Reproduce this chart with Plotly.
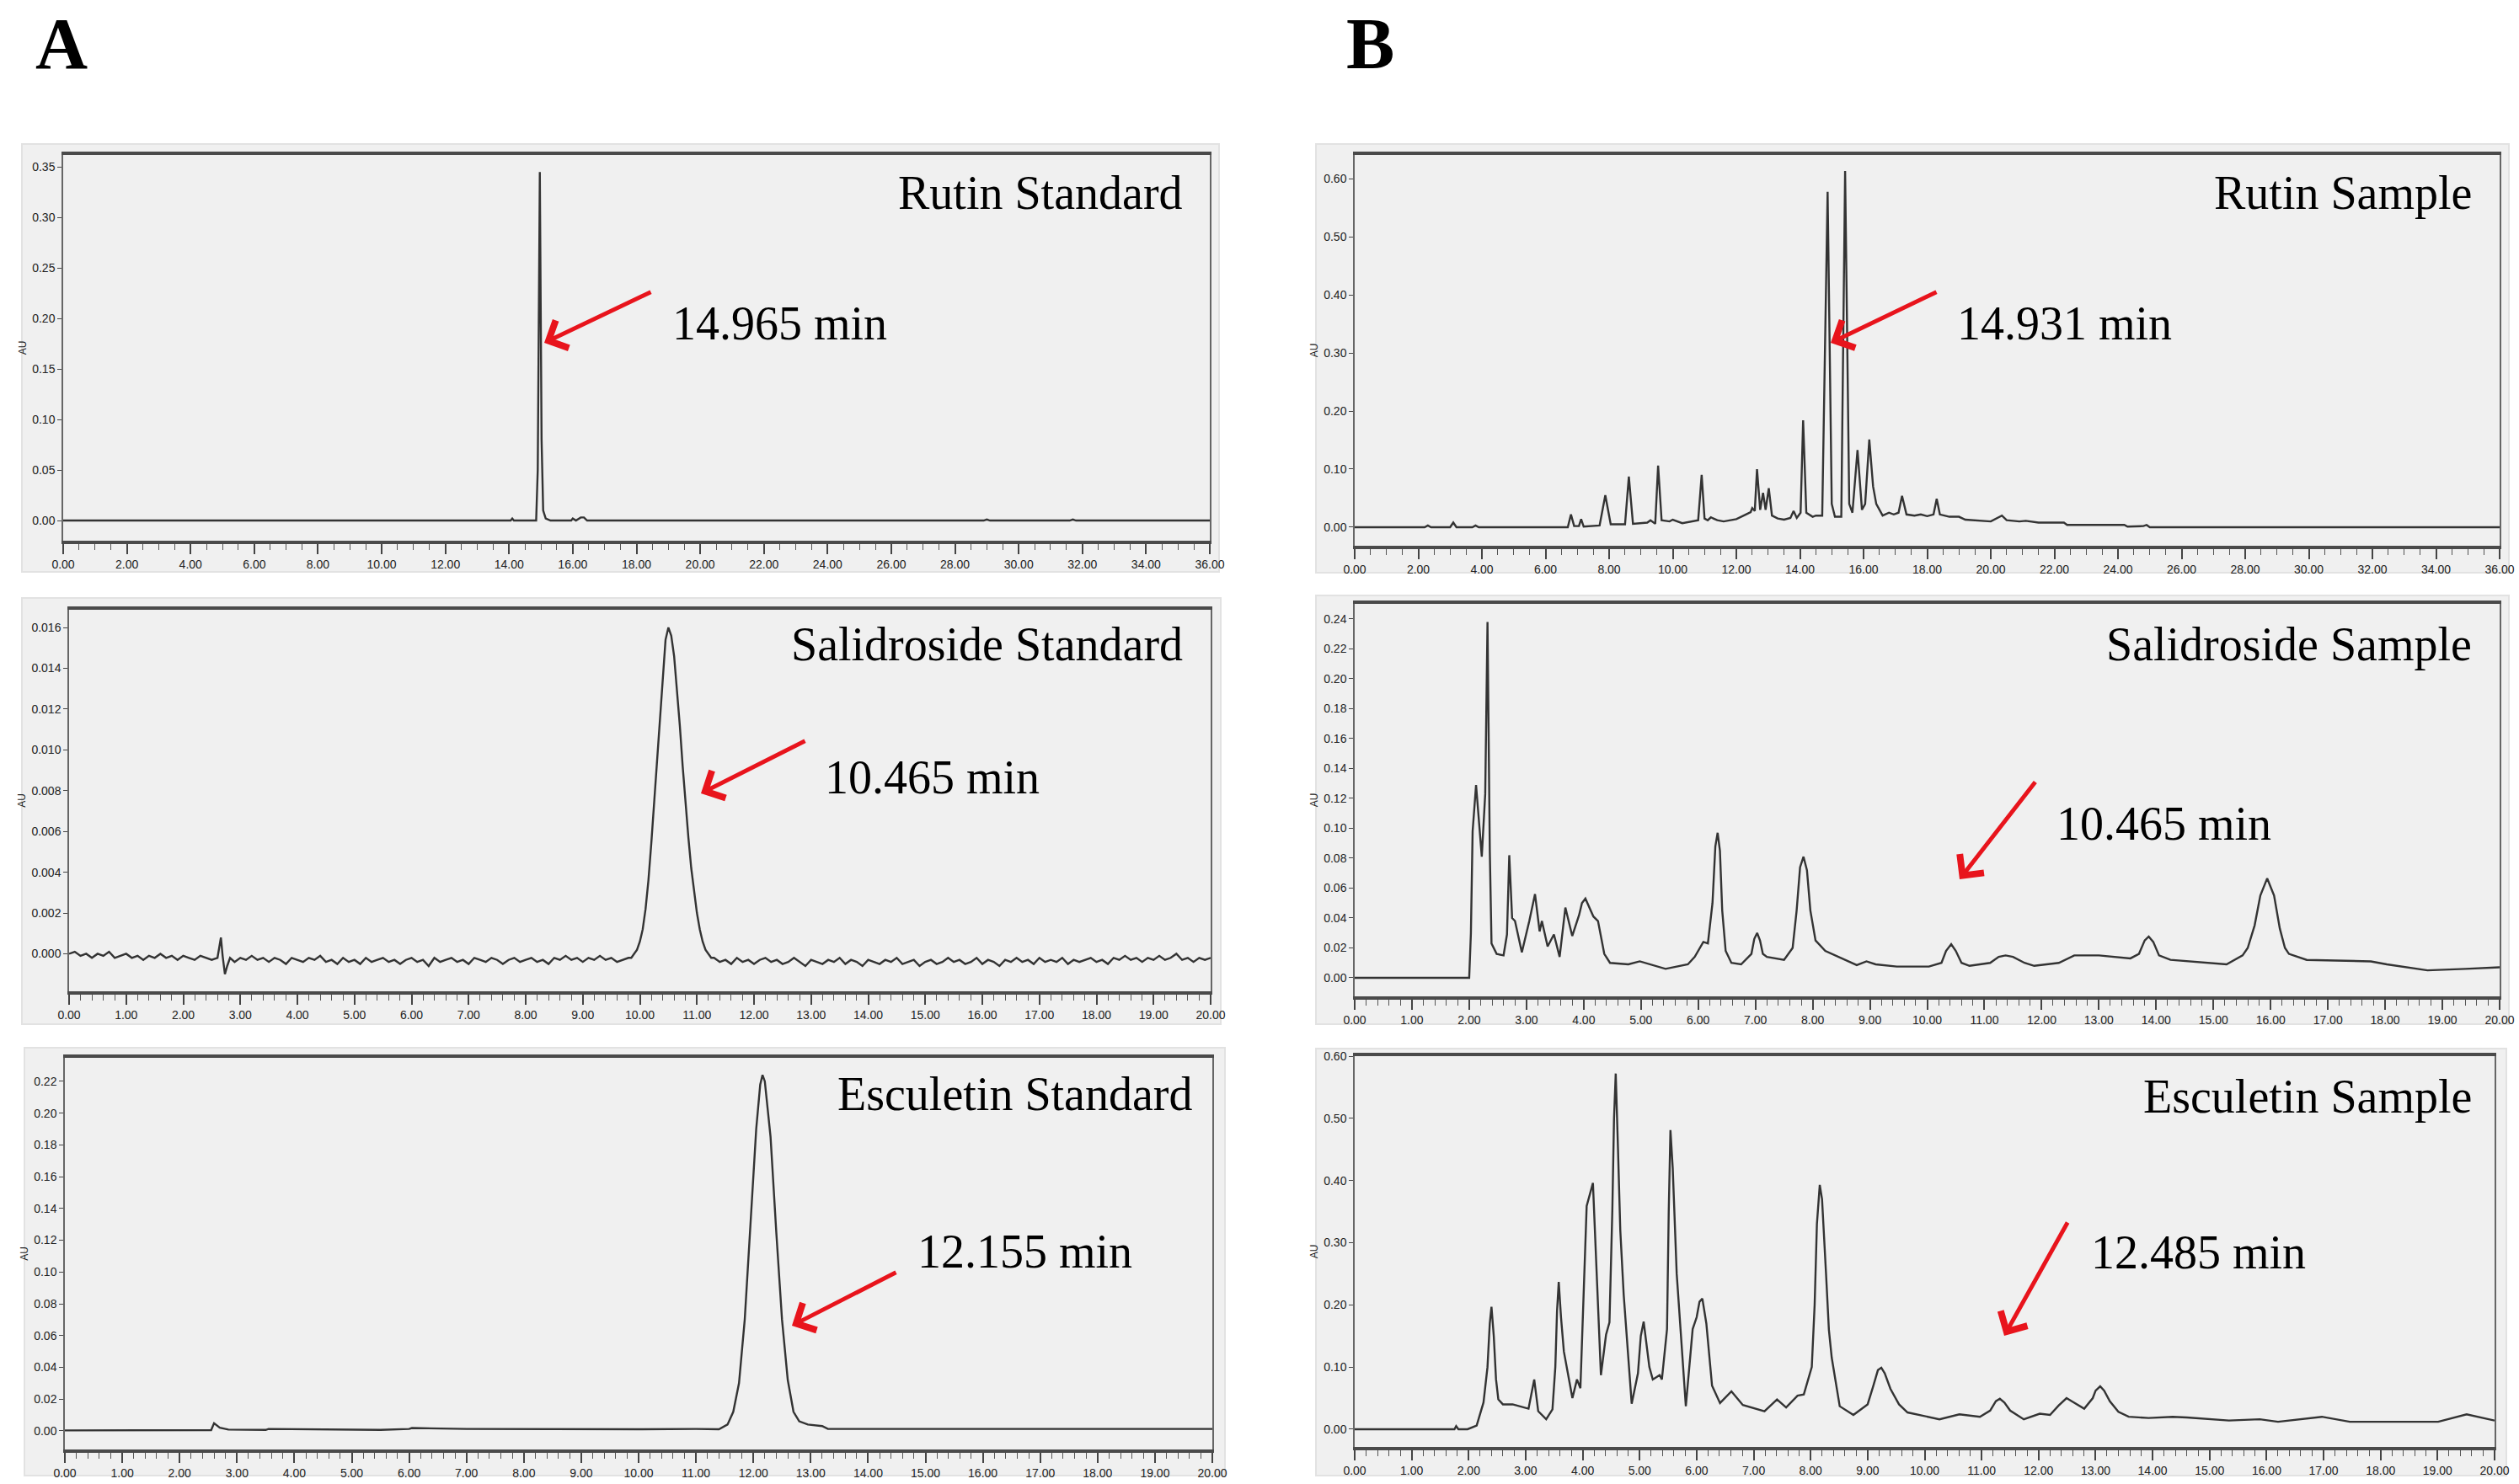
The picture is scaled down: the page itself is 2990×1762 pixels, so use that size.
import plotly.graph_objects as go

W, H = 2990, 1762

# ---------------- chromatogram data (min, AU) ----------------
# A: standards
rutin_std_t = [0.0, 14.05, 14.1, 14.15, 14.85, 14.9, 14.965, 15.02, 15.07, 15.15, 15.3,
               15.95, 16.0, 16.1, 16.25, 16.35, 16.45, 28.9, 29.0, 29.1, 31.6, 31.7, 31.8, 36.0]
rutin_std_au = [0.0, 0.0, 0.002, 0.0, 0.0, 0.05, 0.345, 0.08, 0.01, 0.002, 0.0,
                0.0, 0.002, 0.0, 0.003, 0.003, 0.0, 0.0, 0.001, 0.0, 0.0, 0.001, 0.0, 0.0]

# salidroside standard: noisy baseline, so kept as (time, AU) pairs
sal_std = [
    (0.0, 0.0), (0.1, 0.0001), (0.2, -0.0001), (0.3, 0.0), (0.4, -0.0002), (0.5, 0.0),
    (0.6, -0.0001), (0.7, 0.0001), (0.8, -0.0002), (0.9, -0.0001), (1.0, 0.0),
    (1.1, -0.0002), (1.2, -0.0001), (1.3, -0.0003), (1.4, -0.0001), (1.5, -0.0002),
    (1.6, 0.0), (1.7, -0.0002), (1.8, -0.0001), (1.9, -0.0003), (2.0, -0.0001),
    (2.1, -0.0002), (2.2, -0.0003), (2.3, -0.0001), (2.4, -0.0002), (2.5, -0.0003),
    (2.6, -0.0002), (2.66, 0.0008), (2.69, -0.0001), (2.73, -0.001), (2.77, -0.0006),
    (2.82, -0.0002), (2.9, -0.0004), (3.0, -0.0002), (3.1, -0.0003), (3.2, -0.0001),
    (3.3, -0.0003), (3.4, -0.0002), (3.5, -0.0004), (3.6, -0.0002), (3.7, -0.0003),
    (3.8, -0.0005), (3.9, -0.0002), (4.0, -0.0003), (4.1, -0.0004), (4.2, -0.0002),
    (4.3, -0.0003), (4.4, -0.0001), (4.5, -0.0004), (4.6, -0.0003), (4.7, -0.0005),
    (4.8, -0.0002), (4.9, -0.0004), (5.0, -0.0003), (5.1, -0.0005), (5.2, -0.0002),
    (5.3, -0.0004), (5.4, -0.0003), (5.5, -0.0002), (5.6, -0.0004), (5.7, -0.0003),
    (5.8, -0.0005), (5.9, -0.0003), (6.0, -0.0002), (6.1, -0.0004), (6.2, -0.0003),
    (6.3, -0.0006), (6.4, -0.0002), (6.5, -0.0004), (6.6, -0.0003), (6.7, -0.0002),
    (6.8, -0.0004), (6.9, -0.0003), (7.0, -0.0005), (7.1, -0.0002), (7.2, -0.0003),
    (7.3, -0.0004), (7.4, -0.0002), (7.5, -0.0003), (7.6, -0.0005), (7.7, -0.0003),
    (7.8, -0.0002), (7.9, -0.0004), (8.0, -0.0003), (8.1, -0.0002), (8.2, -0.0004),
    (8.3, -0.0003), (8.4, -0.0005), (8.5, -0.0002), (8.6, -0.0003), (8.7, -0.0001),
    (8.8, -0.0003), (8.9, -0.0002), (9.0, -0.0004), (9.1, -0.0002), (9.2, -0.0003),
    (9.3, -0.0001), (9.4, -0.0003), (9.5, -0.0002), (9.6, -0.0004), (9.7, -0.0003),
    (9.8, -0.0002), (9.85, -0.0002), (9.95, 0.0002), (10.0, 0.0006), (10.05, 0.0012),
    (10.1, 0.0022), (10.15, 0.0036), (10.2, 0.0054), (10.25, 0.0074), (10.3, 0.0095),
    (10.35, 0.0118), (10.4, 0.0138), (10.45, 0.0154), (10.5, 0.016), (10.55, 0.0156),
    (10.6, 0.0146), (10.65, 0.013), (10.7, 0.0112), (10.75, 0.0092), (10.8, 0.0074),
    (10.85, 0.0057), (10.9, 0.0042), (10.95, 0.003), (11.0, 0.002), (11.05, 0.0012),
    (11.1, 0.0006), (11.15, 0.0002), (11.2, 0.0), (11.25, -0.0002), (11.3, -0.0002),
    (11.4, -0.0004), (11.5, -0.0003), (11.6, -0.0005), (11.7, -0.0002), (11.8, -0.0004),
    (11.9, -0.0003), (12.0, -0.0005), (12.1, -0.0003), (12.2, -0.0002), (12.3, -0.0004),
    (12.4, -0.0003), (12.5, -0.0005), (12.6, -0.0004), (12.7, -0.0002), (12.8, -0.0004),
    (12.9, -0.0006), (13.0, -0.0003), (13.1, -0.0004), (13.2, -0.0005), (13.3, -0.0003),
    (13.4, -0.0004), (13.5, -0.0002), (13.6, -0.0005), (13.7, -0.0003), (13.8, -0.0004),
    (13.9, -0.0006), (14.0, -0.0003), (14.1, -0.0004), (14.2, -0.0005), (14.3, -0.0003),
    (14.4, -0.0004), (14.5, -0.0002), (14.6, -0.0005), (14.7, -0.0004), (14.8, -0.0003),
    (14.9, -0.0006), (15.0, -0.0004), (15.1, -0.0003), (15.2, -0.0005), (15.3, -0.0004),
    (15.4, -0.0002), (15.5, -0.0004), (15.6, -0.0003), (15.7, -0.0005), (15.8, -0.0004),
    (15.9, -0.0002), (16.0, -0.0005), (16.1, -0.0003), (16.2, -0.0004), (16.3, -0.0006),
    (16.4, -0.0003), (16.5, -0.0004), (16.6, -0.0002), (16.7, -0.0004), (16.8, -0.0003),
    (16.9, -0.0005), (17.0, -0.0002), (17.1, -0.0004), (17.2, -0.0003), (17.3, -0.0004),
    (17.4, -0.0002), (17.5, -0.0005), (17.6, -0.0003), (17.7, -0.0004), (17.8, -0.0003),
    (17.9, -0.0002), (18.0, -0.0004), (18.1, -0.0003), (18.2, -0.0005), (18.3, -0.0002),
    (18.4, -0.0003), (18.5, -0.0001), (18.6, -0.0003), (18.7, -0.0002), (18.8, -0.0004),
    (18.9, -0.0002), (19.0, -0.0003), (19.1, -0.0001), (19.2, -0.0003), (19.3, -0.0002),
    (19.4, 0.0), (19.5, -0.0003), (19.6, -0.0002), (19.7, -0.0004), (19.8, -0.0002),
    (19.9, -0.0003), (20.0, -0.0002),
]
sal_std_t = [p[0] for p in sal_std]
sal_std_au = [p[1] for p in sal_std]

esc_std_t = [0.0, 1.0, 2.0, 2.55, 2.6, 2.7, 2.85, 3.5, 3.55, 4.5, 5.5, 6.0, 6.05, 7.0, 8.0,
             9.0, 10.0, 11.0, 11.4, 11.55, 11.65, 11.75, 11.85, 11.95, 12.05, 12.12, 12.16,
             12.2, 12.3, 12.4, 12.5, 12.6, 12.7, 12.8, 12.95, 13.2, 13.3, 20.0]
esc_std_au = [0.0003, 0.0005, 0.0004, 0.0005, 0.0048, 0.002, 0.0008, 0.0006, 0.0012, 0.0009,
              0.0006, 0.0012, 0.0018, 0.0012, 0.001, 0.0012, 0.001, 0.0012, 0.001, 0.004,
              0.012, 0.03, 0.07, 0.13, 0.19, 0.218, 0.224, 0.22, 0.185, 0.125, 0.07, 0.032,
              0.012, 0.006, 0.004, 0.003, 0.0012, 0.0012]

# B: samples
rutin_smp_t = [0.0, 2.2, 2.3, 2.4, 3.0, 3.1, 3.2, 3.7, 3.8, 3.9, 6.7, 6.8, 6.9, 7.05, 7.12,
               7.2, 7.7, 7.88, 8.05, 8.5, 8.62, 8.75, 9.2, 9.3, 9.45, 9.54, 9.65, 9.9, 10.0,
               10.3, 10.8, 10.91, 11.0, 11.1, 11.2, 11.4, 11.6, 12.0, 12.3, 12.45, 12.5,
               12.58, 12.65, 12.75, 12.84, 12.92, 13.02, 13.12, 13.3, 13.5, 13.7, 13.8, 13.9,
               14.02, 14.1, 14.2, 14.4, 14.5, 14.7, 14.87, 15.0, 15.1, 15.3, 15.42, 15.55,
               15.65, 15.81, 15.95, 16.05, 16.18, 16.3, 16.4, 16.6, 16.8, 16.95, 17.1, 17.21,
               17.35, 17.6, 17.8, 18.0, 18.2, 18.3, 18.4, 18.7, 19.0, 19.2, 19.5, 20.0, 20.35,
               20.5, 20.9, 21.1, 21.5, 22.3, 22.4, 24.2, 24.3, 24.8, 24.9, 25.0, 36.0]
rutin_smp_au = [0.0, 0.0, 0.003, 0.0, 0.0, 0.008, 0.0, 0.0, 0.003, 0.0, 0.0, 0.022, 0.002,
                0.002, 0.014, 0.001, 0.003, 0.055, 0.005, 0.005, 0.087, 0.006, 0.008, 0.012,
                0.006, 0.106, 0.012, 0.01, 0.013, 0.007, 0.012, 0.09, 0.015, 0.012, 0.017,
                0.012, 0.01, 0.014, 0.022, 0.026, 0.033, 0.028, 0.1, 0.03, 0.059, 0.03, 0.067,
                0.02, 0.015, 0.013, 0.016, 0.028, 0.016, 0.025, 0.184, 0.025, 0.018, 0.02,
                0.02, 0.577, 0.04, 0.018, 0.018, 0.613, 0.04, 0.025, 0.133, 0.03, 0.04, 0.151,
                0.07, 0.04, 0.02, 0.025, 0.022, 0.025, 0.054, 0.022, 0.02, 0.022, 0.019, 0.022,
                0.049, 0.022, 0.018, 0.018, 0.013, 0.012, 0.01, 0.02, 0.012, 0.01, 0.011,
                0.008, 0.008, 0.004, 0.004, 0.001, 0.002, 0.004, 0.0, 0.0]

sal_smp = [
    (0.0, 0.0), (2.0, 0.0), (2.03, 0.03), (2.06, 0.098), (2.12, 0.129), (2.22, 0.081),
    (2.28, 0.123), (2.32, 0.238), (2.36, 0.085), (2.39, 0.023), (2.48, 0.016), (2.6, 0.015),
    (2.66, 0.029), (2.7, 0.082), (2.75, 0.04), (2.8, 0.038), (2.92, 0.017), (3.05, 0.038),
    (3.15, 0.056), (3.23, 0.031), (3.27, 0.038), (3.37, 0.021), (3.48, 0.029), (3.58, 0.014),
    (3.68, 0.047), (3.8, 0.028), (3.92, 0.042), (3.97, 0.05), (4.03, 0.053), (4.1, 0.047),
    (4.17, 0.041), (4.25, 0.038), (4.36, 0.016), (4.46, 0.01), (4.78, 0.009), (4.98, 0.011),
    (5.43, 0.006), (5.82, 0.009), (5.94, 0.014), (6.09, 0.024), (6.17, 0.023), (6.25, 0.05),
    (6.3, 0.088), (6.34, 0.097), (6.38, 0.085), (6.42, 0.045), (6.48, 0.018), (6.58, 0.01),
    (6.75, 0.009), (6.93, 0.016), (6.98, 0.026), (7.03, 0.03), (7.08, 0.025), (7.13, 0.016),
    (7.2, 0.014), (7.5, 0.012), (7.65, 0.02), (7.72, 0.045), (7.78, 0.074), (7.84, 0.081),
    (7.9, 0.072), (7.96, 0.045), (8.05, 0.025), (8.22, 0.018), (8.5, 0.013), (8.77, 0.0085),
    (8.94, 0.011), (9.1, 0.009), (9.47, 0.0075), (10.03, 0.0075), (10.25, 0.01),
    (10.33, 0.018), (10.42, 0.0225), (10.5, 0.018), (10.6, 0.01), (10.74, 0.008),
    (11.1, 0.01), (11.25, 0.014), (11.37, 0.015), (11.5, 0.014), (11.7, 0.01), (11.87, 0.008),
    (12.3, 0.01), (12.57, 0.015), (13.0, 0.015), (13.55, 0.013), (13.7, 0.016), (13.8, 0.025),
    (13.87, 0.0276), (13.95, 0.024), (14.05, 0.015), (14.25, 0.012), (15.23, 0.009),
    (15.51, 0.015), (15.6, 0.02), (15.72, 0.035), (15.82, 0.055), (15.94, 0.0665),
    (16.06, 0.055), (16.16, 0.033), (16.25, 0.02), (16.32, 0.016), (16.63, 0.012),
    (17.75, 0.011), (18.03, 0.009), (18.74, 0.005), (19.4, 0.006), (20.0, 0.007),
]
sal_smp_t = [p[0] for p in sal_smp]
sal_smp_au = [p[1] for p in sal_smp]

esc_smp = [
    (0.0, 0.0), (1.75, 0.0), (1.78, 0.005), (1.82, 0.0), (1.98, 0.0), (2.14, 0.006),
    (2.26, 0.043), (2.33, 0.1), (2.37, 0.17), (2.4, 0.197), (2.44, 0.15), (2.48, 0.08),
    (2.52, 0.048), (2.6, 0.04), (2.77, 0.04), (3.05, 0.033), (3.15, 0.08), (3.22, 0.029),
    (3.36, 0.016), (3.47, 0.032), (3.52, 0.1), (3.55, 0.19), (3.58, 0.237), (3.62, 0.18),
    (3.67, 0.125), (3.82, 0.05), (3.9, 0.08), (3.96, 0.066), (4.07, 0.359), (4.18, 0.396),
    (4.32, 0.087), (4.41, 0.152), (4.47, 0.172), (4.52, 0.35), (4.55, 0.5), (4.58, 0.572),
    (4.62, 0.45), (4.66, 0.32), (4.72, 0.216), (4.86, 0.041), (4.97, 0.09), (5.02, 0.15),
    (5.07, 0.173), (5.12, 0.14), (5.17, 0.1), (5.23, 0.08), (5.35, 0.087), (5.39, 0.08),
    (5.48, 0.161), (5.51, 0.35), (5.54, 0.481), (5.58, 0.42), (5.62, 0.32), (5.65, 0.25),
    (5.81, 0.037), (5.93, 0.161), (6.0, 0.18), (6.05, 0.205), (6.1, 0.21), (6.17, 0.17),
    (6.27, 0.07), (6.41, 0.042), (6.61, 0.061), (6.81, 0.039), (7.19, 0.029), (7.41, 0.048),
    (7.57, 0.035), (7.77, 0.054), (7.88, 0.056), (8.02, 0.1), (8.07, 0.2), (8.11, 0.33),
    (8.16, 0.393), (8.2, 0.37), (8.27, 0.25), (8.32, 0.16), (8.37, 0.115), (8.51, 0.037),
    (8.75, 0.023), (9.0, 0.04), (9.1, 0.07), (9.18, 0.095), (9.24, 0.099), (9.3, 0.09),
    (9.4, 0.065), (9.55, 0.04), (9.7, 0.027), (10.26, 0.016), (10.61, 0.024), (10.97, 0.02),
    (11.15, 0.03), (11.25, 0.045), (11.32, 0.049), (11.4, 0.043), (11.5, 0.03),
    (11.74, 0.016), (12.02, 0.025), (12.2, 0.023), (12.35, 0.038), (12.49, 0.05),
    (12.6, 0.044), (12.8, 0.033), (12.95, 0.05), (13.0, 0.062), (13.08, 0.069),
    (13.15, 0.062), (13.25, 0.045), (13.4, 0.028), (13.58, 0.02), (13.93, 0.018),
    (14.35, 0.02), (14.6, 0.019), (15.34, 0.014), (15.88, 0.016), (16.2, 0.012),
    (16.97, 0.02), (17.46, 0.012), (19.01, 0.012), (19.51, 0.024), (20.0, 0.014),
]
esc_smp_t = [p[0] for p in esc_smp]
esc_smp_au = [p[1] for p in esc_smp]

titles = ["Rutin Standard", "Salidroside Standard", "Esculetin Standard",
          "Rutin Sample", "Salidroside Sample", "Esculetin Sample"]
rt_labels = ["14.965 min", "10.465 min", "12.155 min",
             "14.931 min", "10.465 min", "12.485 min"]
series = [(rutin_std_t, rutin_std_au), (sal_std_t, sal_std_au), (esc_std_t, esc_std_au),
          (rutin_smp_t, rutin_smp_au), (sal_smp_t, sal_smp_au), (esc_smp_t, esc_smp_au)]


def X(px):
    return px / W


def Y(py):
    return 1 - py / H


# layout per panel (pixel boxes of the original figure)
panels = [
    dict(plot=(75, 1436, 184, 642), bg=(26, 1447, 171, 679), xr=[0, 36], xd=2, xm=0.5,
         yr=[-0.02, 0.362], yd=0.05, yf=".2f",
         title=(1406, 229), lab=(796, 384), arrow=((774, 346), (646, 407))),
    dict(plot=(82, 1437, 724, 1177), bg=(26, 1449, 710, 1216), xr=[0, 20], xd=1, xm=0.2,
         yr=[-0.00184, 0.01687], yd=0.002, yf=".3f",
         title=(1406, 765), lab=(977, 923), arrow=((957, 879), (832, 942))),
    dict(plot=(77, 1439, 1256, 1721), bg=(29, 1454, 1244, 1752), xr=[0, 20], xd=1, xm=0.2,
         yr=[-0.0117, 0.2348], yd=0.02, yf=".2f",
         title=(1417, 1299), lab=(1087, 1486), arrow=((1065, 1510), (940, 1574))),
    dict(plot=(1608, 2967, 184, 648), bg=(1562, 2978, 171, 680), xr=[0, 36], xd=2, xm=0.5,
         yr=[-0.0319, 0.6406], yd=0.1, yf=".2f",
         title=(2936, 229), lab=(2321, 384), arrow=((2300, 346), (2173, 407))),
    dict(plot=(1608, 2967, 717, 1183), bg=(1562, 2978, 707, 1216), xr=[0, 20], xd=1, xm=0.2,
         yr=[-0.0124, 0.2501], yd=0.02, yf=".2f",
         title=(2936, 765), lab=(2439, 978), arrow=((2417, 927), (2326, 1044))),
    dict(plot=(1608, 2961, 1254, 1718), bg=(1562, 2975, 1245, 1752), xr=[0, 20], xd=1, xm=0.2,
         yr=[-0.0285, 0.6], yd=0.1, yf=".2f",
         title=(2936, 1302), lab=(2480, 1487), arrow=((2455, 1450), (2379, 1586))),
]

tick_font = dict(family="Liberation Sans Narrow, Liberation Sans, Arial", size=14, color="#222")
serif = "Liberation Serif, Times New Roman, serif"

fig = go.Figure()
shapes = []
annotations = []
layout = {}

for i, (p, (t, au)) in enumerate(zip(panels, series)):
    n = "" if i == 0 else str(i + 1)
    l, r, top, bot = p["plot"]
    fig.add_trace(go.Scatter(x=t, y=au, mode="lines", xaxis="x" + n, yaxis="y" + n,
                             line=dict(color="#333333", width=2.4),
                             showlegend=False, hoverinfo="skip"))
    layout["xaxis" + n] = dict(
        domain=[X(l), X(r)], anchor="y" + n, range=p["xr"], automargin=False,
        tickmode="linear", tick0=0, dtick=p["xd"], tickformat=".2f",
        ticks="outside", ticklen=12, tickwidth=1.5, tickcolor="#444",
        minor=dict(dtick=p["xm"], ticks="outside", ticklen=7, tickwidth=1.2, tickcolor="#555"),
        showline=True, linewidth=4, linecolor="#4a4a4a", mirror=True,
        showgrid=False, zeroline=False, tickfont=tick_font)
    layout["yaxis" + n] = dict(
        domain=[Y(bot), Y(top)], anchor="x" + n, range=p["yr"], automargin=False,
        tickmode="linear", tick0=0, dtick=p["yd"], tickformat=p["yf"],
        ticks="outside", ticklen=5, tickwidth=1.2, tickcolor="#444",
        showline=True, linewidth=1.5, linecolor="#666", mirror=True,
        showgrid=False, zeroline=False, tickfont=tick_font,
        title=dict(text="AU", font=dict(family=tick_font["family"], size=12, color="#222"),
                   standoff=4))
    bl, br, bt, bb = p["bg"]
    shapes.append(dict(type="rect", xref="paper", yref="paper", x0=X(bl), x1=X(br),
                       y0=Y(bb), y1=Y(bt), fillcolor="#f0f0f0",
                       line=dict(color="#e2e2e2", width=2), layer="below"))
    tx, ty = p["title"]
    annotations.append(dict(text=titles[i], x=X(tx), y=Y(ty), xref="paper", yref="paper",
                            xanchor="right", yanchor="middle", showarrow=False,
                            font=dict(family=serif, size=56, color="#000")))
    lx, ly = p["lab"]
    annotations.append(dict(text=rt_labels[i], x=X(lx), y=Y(ly), xref="paper", yref="paper",
                            xanchor="left", yanchor="middle", showarrow=False,
                            font=dict(family=serif, size=56, color="#000")))
    (ax0, ay0), (hx, hy) = p["arrow"]
    annotations.append(dict(text="", x=X(hx), y=Y(hy), xref="paper", yref="paper",
                            ax=ax0 - hx, ay=ay0 - hy, showarrow=True, arrowhead=4,
                            arrowsize=1.4, arrowwidth=5, arrowcolor="#e8141c", standoff=0))

# panel letters, box kept inside the page
for letter, lx in zip(["A", "B"], [40, 1596]):
    annotations.append(dict(text="<b>" + letter + "</b>", x=X(lx), y=Y(2), xref="paper",
                            yref="paper", xanchor="left", yanchor="top", showarrow=False,
                            font=dict(family=serif, size=86, color="#000")))

fig.update_layout(width=W, height=H, margin=dict(l=0, r=0, t=0, b=0, autoexpand=False),
                  paper_bgcolor="white", plot_bgcolor="#f0f0f0",
                  shapes=shapes, annotations=annotations, **layout)

fig.write_html("out.html", config={"displayModeBar": False},
               post_script="document.body.style.margin='0';document.body.style.overflow='hidden';")
